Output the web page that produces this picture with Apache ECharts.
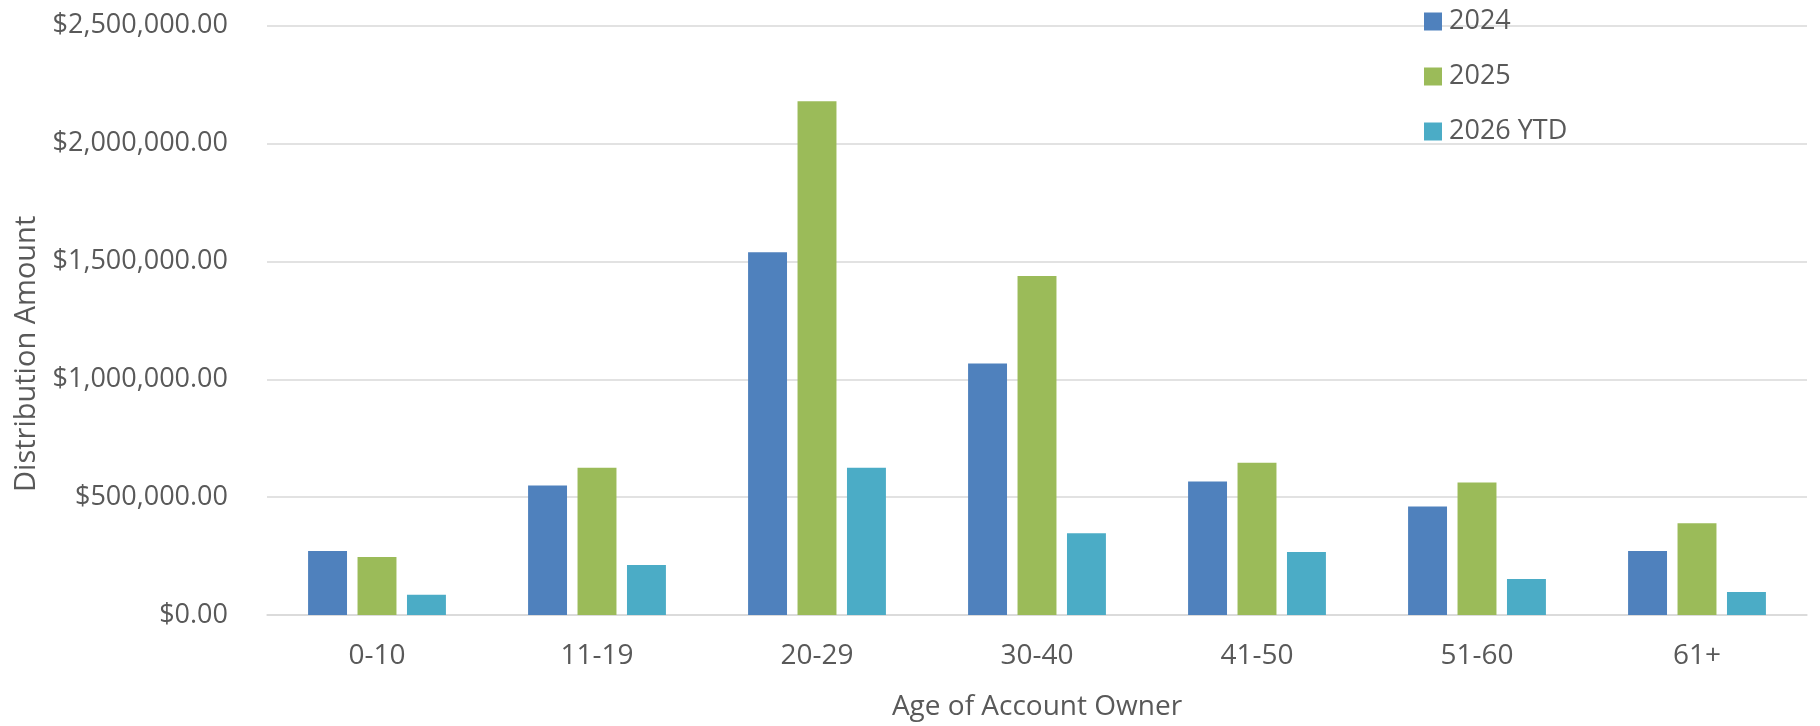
<!DOCTYPE html>
<html>
<head>
<meta charset="utf-8">
<script src="https://cdn.jsdelivr.net/npm/echarts@6/dist/echarts.min.js"></script>
<style>
html,body{margin:0;padding:0;background:#fff;}
#chart{width:1820px;height:726px;}
</style>
</head>
<body>
<div id="chart"></div>
<script>
const categories = ['0-10', '11-19', '20-29', '30-40', '41-50', '51-60', '61+'];
const seriesNames = ['2024', '2025', '2026 YTD'];
const values2024 = [271000, 549000, 1539000, 1067000, 566000, 460000, 271000];
const values2025 = [246000, 625000, 2179000, 1438000, 646000, 562000, 389000];
const values2026 = [86000, 212000, 625000, 347000, 267000, 153000, 98000];
const colors = ['#4F81BD', '#9BBB59', '#4BACC6'];

const FONT = "'Open Sans', 'Noto Sans', sans-serif";
const TXT = '#595959';

const chart = echarts.init(document.getElementById('chart'), null, {renderer: 'canvas'});
const dataSets = [values2024, values2025, values2026];

chart.setOption({
  animation: false,
  backgroundColor: '#ffffff',
  textStyle: {fontFamily: FONT},
  grid: {left: 267, right: 13, top: 25.7, bottom: 106.7, containLabel: false},
  legend: {
    orient: 'vertical',
    left: 1424,
    top: 8,
    padding: 0,
    itemWidth: 18,
    itemHeight: 18,
    itemGap: 28,
    icon: 'rect',
    data: seriesNames,
    textStyle: {fontFamily: FONT, fontSize: 27, color: TXT, padding: [0, 0, 0, 2]}
  },
  xAxis: {
    type: 'category',
    data: categories,
    name: 'Age of Account Owner',
    nameLocation: 'middle',
    nameGap: 78,
    nameTextStyle: {fontFamily: FONT, fontSize: 28, color: TXT},
    axisLine: {show: true, lineStyle: {color: '#D9D9D9', width: 1.5}},
    axisTick: {show: false},
    axisLabel: {fontFamily: FONT, fontSize: 28, color: TXT, margin: 27}
  },
  yAxis: {
    type: 'value',
    min: 0,
    max: 2500000,
    interval: 500000,
    name: 'Distribution Amount',
    nameLocation: 'middle',
    nameGap: 225,
    nameTextStyle: {fontFamily: FONT, fontSize: 29, color: TXT, padding: [0, 67, 0, 0]},
    axisLine: {show: false},
    axisTick: {show: false},
    splitLine: {lineStyle: {color: '#D9D9D9', width: 1.5}},
    axisLabel: {
      fontFamily: FONT, fontSize: 27, color: TXT, margin: 39,
      formatter: v => '$' + v.toLocaleString('en-US', {minimumFractionDigits: 2, maximumFractionDigits: 2})
    }
  },
  series: seriesNames.map((name, i) => ({
    name: name,
    type: 'bar',
    data: dataSets[i],
    barWidth: '17.7%',
    barGap: '27%',
    itemStyle: {color: colors[i]}
  }))
});
</script>
</body>
</html>
